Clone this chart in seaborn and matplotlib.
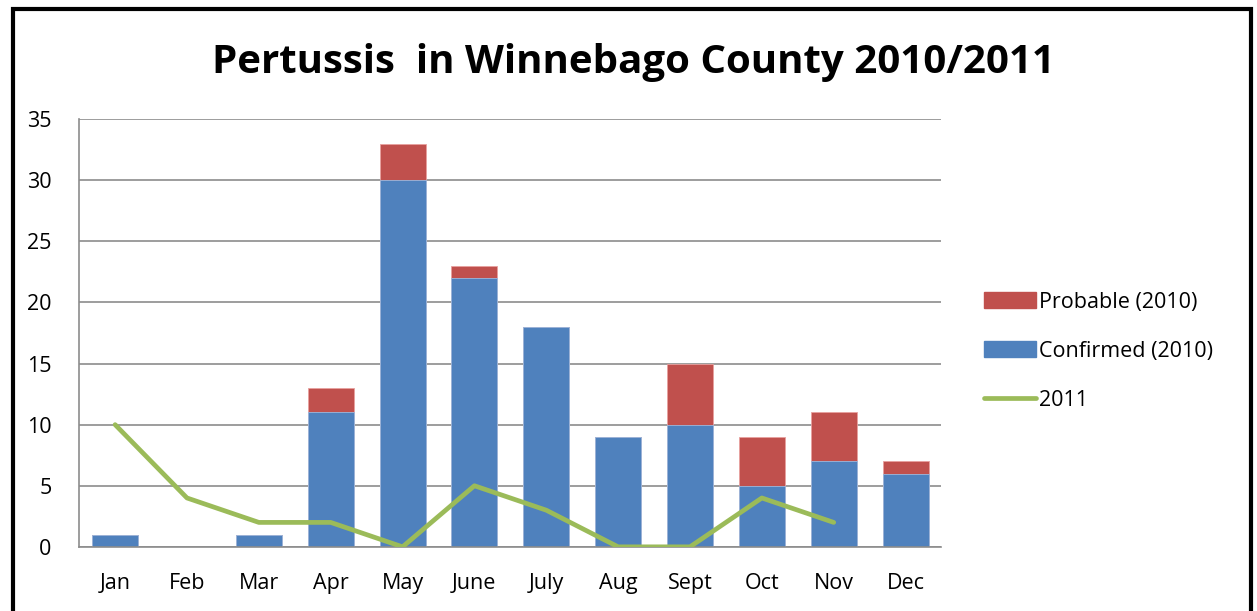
import matplotlib.pyplot as plt
import numpy as np
import pandas as pd
import seaborn as sns
from matplotlib.lines import Line2D
from matplotlib.patches import Patch, Rectangle

# %% Data
months = ["Jan", "Feb", "Mar", "Apr", "May", "June", "July", "Aug", "Sept", "Oct", "Nov", "Dec"]
confirmed_2010 = [1, 0, 1, 11, 30, 22, 18, 9, 10, 5, 7, 6]
probable_2010 = [0, 0, 0, 2, 3, 1, 0, 0, 5, 4, 4, 1]
cases_2011 = [10, 4, 2, 2, 0, 5, 3, 0, 0, 4, 2]

df = pd.DataFrame({"Month": months, "Confirmed": confirmed_2010, "Probable": probable_2010})
df["Total"] = df["Confirmed"] + df["Probable"]
df11 = pd.DataFrame({"pos": np.arange(len(cases_2011)), "Cases": cases_2011})

blue = "#4F81BD"
red = "#C0504D"
green = "#9BBB59"

# %% Plot
sns.set_style("white")
plt.rcParams["font.family"] = ["Open Sans", "DejaVu Sans"]
plt.rcParams["text.color"] = "black"
plt.rcParams["xtick.color"] = "black"
plt.rcParams["ytick.color"] = "black"

fig = plt.figure(figsize=(12.57, 6.11), dpi=100)
ax = fig.add_axes([0.063, 0.105, 0.686, 0.700])

sns.barplot(data=df, x="Month", y="Total", color=red, saturation=1, width=0.64,
            edgecolor="#E8A09E", linewidth=0.6, ax=ax)
sns.barplot(data=df, x="Month", y="Confirmed", color=blue, saturation=1, width=0.64,
            edgecolor="#9DB9DE", linewidth=0.6, ax=ax)
sns.lineplot(data=df11, x="pos", y="Cases", color=green, linewidth=3.4,
             solid_capstyle="round", ax=ax, zorder=5)

ax.set_ylim(0, 35)
ax.set_xlim(-0.5, 11.5)
ax.set_yticks(range(0, 36, 5))
ax.yaxis.grid(True, color="#8C8C8C", linewidth=1.2)
ax.set_axisbelow(True)
ax.set_xlabel("")
ax.set_ylabel("")
for s in ["top", "right"]:
    ax.spines[s].set_visible(False)
ax.spines["left"].set_color("#8C8C8C")
ax.spines["bottom"].set_color("#8C8C8C")
ax.spines["left"].set_linewidth(1.2)
ax.spines["bottom"].set_linewidth(1.2)
ax.tick_params(axis="both", labelsize=15.5, length=0)
ax.tick_params(axis="x", pad=18.5)
ax.tick_params(axis="y", pad=20)

fig.text(0.504, 0.898, "Pertussis  in Winnebago County 2010/2011", ha="center", va="center",
         fontsize=29, fontweight="bold")

handles = [
    Patch(facecolor=red, edgecolor=red),
    Patch(facecolor=blue, edgecolor=blue),
    Line2D([0], [0], color=green, linewidth=3.4, solid_capstyle="round"),
]
fig.legend(handles, ["Probable (2010)", "Confirmed (2010)", "2011"],
           loc="center left", bbox_to_anchor=(0.783, 0.4255), frameon=False,
           fontsize=15.5, handlelength=2.4, handleheight=0.75, handletextpad=0.15,
           labelspacing=1.3, borderpad=0, borderaxespad=0)

# outer frame of the chart
fig.add_artist(Rectangle((0.0105, -0.02), 0.985, 1.005, transform=fig.transFigure,
                         fill=False, edgecolor="black", linewidth=3))

fig.savefig("out.png", dpi=100, facecolor="white")
